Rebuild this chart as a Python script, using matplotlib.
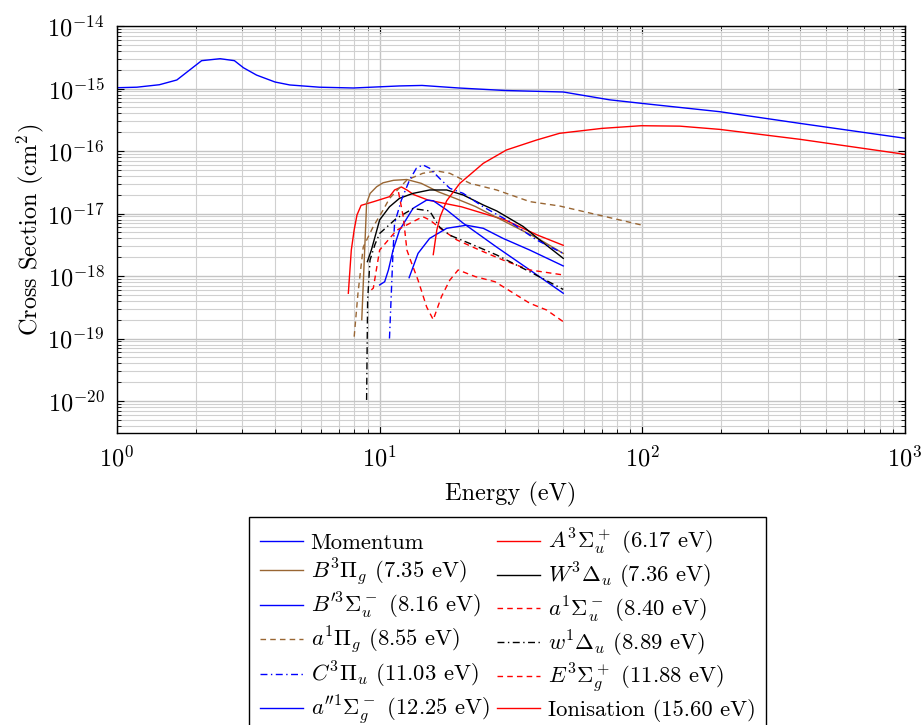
import numpy as np
import matplotlib
matplotlib.use("Agg")
import matplotlib.pyplot as plt

plt.rcParams['font.family'] = 'serif'
plt.rcParams['font.serif'] = ['cmr10', 'DejaVu Serif']
plt.rcParams['mathtext.fontset'] = 'cm'
plt.rcParams['axes.formatter.use_mathtext'] = True

# energies (eV) and cross sections (cm^2)
mom_E = [1.0, 1.19, 1.45, 1.69, 2.10, 2.47, 2.8, 3.03, 3.4, 4.0, 4.55, 5.9, 7.95,
         11.9, 14.5, 20, 30, 50, 75, 99, 197, 398, 1000]
mom_cs = [1.03e-15, 1.05e-15, 1.15e-15, 1.37e-15, 2.79e-15, 3.0e-15, 2.79e-15, 2.15e-15,
          1.64e-15, 1.27e-15, 1.14e-15, 1.05e-15, 1.02e-15, 1.1e-15, 1.12e-15, 1.02e-15,
          0.93e-15, 0.88e-15, 6.6e-16, 5.8e-16, 4.26e-16, 2.77e-16, 1.6e-16]

A3_E = [7.6, 7.8, 8.0, 8.2, 8.5, 9.5, 10.9, 11.4, 12.1, 12.7, 13.5, 15.3, 20.5, 30, 40, 50]
A3_cs = [5.3e-19, 2.6e-18, 5.5e-18, 9.5e-18, 1.35e-17, 1.55e-17, 1.86e-17, 2.38e-17,
         2.66e-17, 2.38e-17, 2.0e-17, 1.64e-17, 1.28e-17, 7.9e-18, 4.5e-18, 3.1e-18]

B3_E = [8.55, 8.77, 8.92, 9.2, 9.74, 10.3, 11.3, 12.7, 14.4, 16.7, 19.4, 23.1, 30.4, 40, 50]
B3_cs = [2.0e-19, 2.6e-18, 1.46e-17, 2.1e-17, 2.68e-17, 3.1e-17, 3.4e-17, 3.5e-17,
         3.04e-17, 2.23e-17, 1.75e-17, 1.3e-17, 7.2e-18, 4.0e-18, 2.3e-18]

W3_E = [8.98, 9.3, 10.0, 10.9, 11.9, 13.4, 15.5, 18.0, 20.8, 24.8, 27.9, 35.2, 40.7, 50]
W3_cs = [1.7e-18, 2.6e-18, 7.9e-18, 1.28e-17, 1.75e-17, 2.1e-17, 2.38e-17, 2.38e-17,
         1.98e-17, 1.37e-17, 1.1e-17, 6.2e-18, 3.77e-18, 1.92e-18]

Bp3_E = [10.0, 10.45, 10.8, 11.25, 11.9, 13.4, 15.1, 16.0, 18.0, 20.8, 27.9, 37.3, 50]
Bp3_cs = [7.2e-19, 8.1e-19, 1.25e-18, 2.6e-18, 5.4e-18, 1.21e-17, 1.64e-17, 1.6e-17,
          1.14e-17, 7.0e-18, 2.9e-18, 1.25e-18, 5.3e-19]

a1S_E = [9.3, 9.46, 10.0, 11.6, 13.4, 14.6, 15.5, 17.4, 19.7, 24, 29.5, 37.3, 50]
a1S_cs = [6.0e-19, 6.4e-19, 2.6e-18, 5.4e-18, 7.4e-18, 8.9e-18, 7.9e-18, 5.4e-18,
          3.77e-18, 2.6e-18, 1.8e-18, 1.25e-18, 1.04e-18]

a1P_E = [8.0, 8.27, 8.66, 9.46, 10.3, 10.9, 12.7, 14.6, 16.5, 18.5, 22.1, 27.9, 37.3, 48.4, 100]
a1P_cs = [1.07e-19, 5.3e-19, 2.9e-18, 6.2e-18, 1.13e-17, 1.74e-17, 3.44e-17, 4.4e-17,
          4.8e-17, 4.4e-17, 3.04e-17, 2.38e-17, 1.55e-17, 1.32e-17, 6.5e-18]

w1_E = [8.92, 9.0, 9.19, 9.6, 10.0, 11.6, 13.4, 15.5, 16.9, 18.5, 22.1, 27.9, 37.3, 50]
w1_cs = [1.04e-20, 4.1e-19, 1.8e-18, 3.2e-18, 4.8e-18, 8.4e-18, 1.2e-17, 1.1e-17,
         6.1e-18, 4.5e-18, 3.3e-18, 2.17e-18, 1.17e-18, 6.1e-19]

C3_E = [10.9, 11.25, 11.4, 12.1, 13.0, 13.8, 14.6, 15.5, 16.9, 18.5, 20.8, 24.8, 31.3, 39.6, 50]
C3_cs = [1.0e-19, 2.6e-18, 7.0e-18, 1.64e-17, 3.44e-17, 5.3e-17, 6.0e-17, 5.3e-17,
         3.66e-17, 2.53e-17, 2.1e-17, 1.28e-17, 7.4e-18, 3.77e-18, 2.3e-18]

E3_E = [11.8, 12.3, 12.7, 13.1, 14.0, 15.1, 16.0, 17.2, 18.5, 19.9, 23.1, 27.5, 37.3, 43.2, 50]
E3_cs = [2.2e-17, 8.9e-18, 2.6e-18, 1.8e-18, 8.6e-19, 3.2e-19, 2.0e-19, 4.7e-19,
         8.6e-19, 1.25e-18, 9.8e-19, 8.1e-19, 3.66e-19, 2.86e-19, 1.86e-19]

app1_E = [12.95, 14.0, 15.5, 18.0, 21.4, 24.8, 29.5, 37.3, 50]
app1_cs = [9.4e-19, 2.3e-18, 4.0e-18, 5.8e-18, 6.5e-18, 5.8e-18, 4.0e-18, 2.6e-18, 1.45e-18]

ion_E = [16.0, 16.5, 17.0, 18.0, 20.2, 24.8, 30.4, 39.6, 48.4, 70, 99, 139, 197, 398, 1000]
ion_cs = [2.2e-18, 5.4e-18, 8.9e-18, 1.6e-17, 3.04e-17, 6.35e-17, 1.04e-16, 1.5e-16,
          1.92e-16, 2.3e-16, 2.54e-16, 2.5e-16, 2.22e-16, 1.54e-16, 8.85e-17]

brown = (0.6, 0.4, 0.2)
dashed = (0, (4, 3))
dashdot = (0, (5, 2.5, 1, 2.5))

series = [
    (mom_E, mom_cs, 'blue', '-', 'Momentum'),
    (A3_E, A3_cs, 'red', '-', r'$A^3\Sigma_u^+$ (6.17 eV)'),
    (B3_E, B3_cs, brown, '-', r'$B^3\Pi_g$ (7.35 eV)'),
    (W3_E, W3_cs, 'black', '-', r'$W^3\Delta_u$ (7.36 eV)'),
    (Bp3_E, Bp3_cs, 'blue', '-', r'$B^{\prime 3}\Sigma_u^-$ (8.16 eV)'),
    (a1S_E, a1S_cs, 'red', dashed, r'$a^1\Sigma_u^-$ (8.40 eV)'),
    (a1P_E, a1P_cs, brown, dashed, r'$a^1\Pi_g$ (8.55 eV)'),
    (w1_E, w1_cs, 'black', dashdot, r'$w^1\Delta_u$ (8.89 eV)'),
    (C3_E, C3_cs, 'blue', dashdot, r'$C^3\Pi_u$ (11.03 eV)'),
    (E3_E, E3_cs, 'red', dashed, r'$E^3\Sigma_g^+$ (11.88 eV)'),
    (app1_E, app1_cs, 'blue', '-', r'$a^{\prime\prime 1}\Sigma_g^-$ (12.25 eV)'),
    (ion_E, ion_cs, 'red', '-', 'Ionisation (15.60 eV)'),
]

fig = plt.figure(figsize=(9.24, 7.25), dpi=100)
ax = fig.add_axes([0.1266, 0.4028, 0.8528, 0.5613])

for E, cs, col, ls, lab in series:
    ax.plot(E, cs, color=col, linestyle=ls, linewidth=1.0, label=lab)

ax.set_xscale('log')
ax.set_yscale('log')
ax.set_xlim(1, 1000)
ax.set_ylim(3.08e-21, 1e-14)
ax.set_yticks([1e-20, 1e-19, 1e-18, 1e-17, 1e-16, 1e-15, 1e-14])
ax.grid(True, which='major', color='#c4c4c4', linewidth=1.0)
ax.grid(True, which='minor', color='#d0d0d0', linewidth=0.8)
ax.set_axisbelow(True)
ax.tick_params(which='both', direction='in', top=True, right=True, labelsize=17.5)
ax.tick_params(which='major', length=5)
ax.tick_params(which='minor', length=3)
ax.tick_params(axis='x', pad=9)
ax.tick_params(axis='y', pad=9)
for s in ax.spines.values():
    s.set_linewidth(1.0)

ax.set_xlabel('Energy (eV)', fontsize=17.5, labelpad=8)
ax.set_ylabel(r'Cross Section (cm$^2$)', fontsize=17.5, labelpad=1)

# legend fills row by row: reorder so matplotlib's column order matches
handles, labels = ax.get_legend_handles_labels()
order = [0, 2, 4, 6, 8, 10, 1, 3, 5, 7, 9, 11]
leg = fig.legend([handles[i] for i in order], [labels[i] for i in order],
                 loc='upper center', bbox_to_anchor=(0.5497, 0.2869),
                 ncol=2, fontsize=16.3, frameon=True, fancybox=False, edgecolor='black',
                 framealpha=1, handlelength=1.9, handletextpad=0.35, columnspacing=0.35,
                 labelspacing=0.16, borderpad=0.45, borderaxespad=0)
leg.get_frame().set_linewidth(1.0)

fig.savefig('out.png', dpi=100)
